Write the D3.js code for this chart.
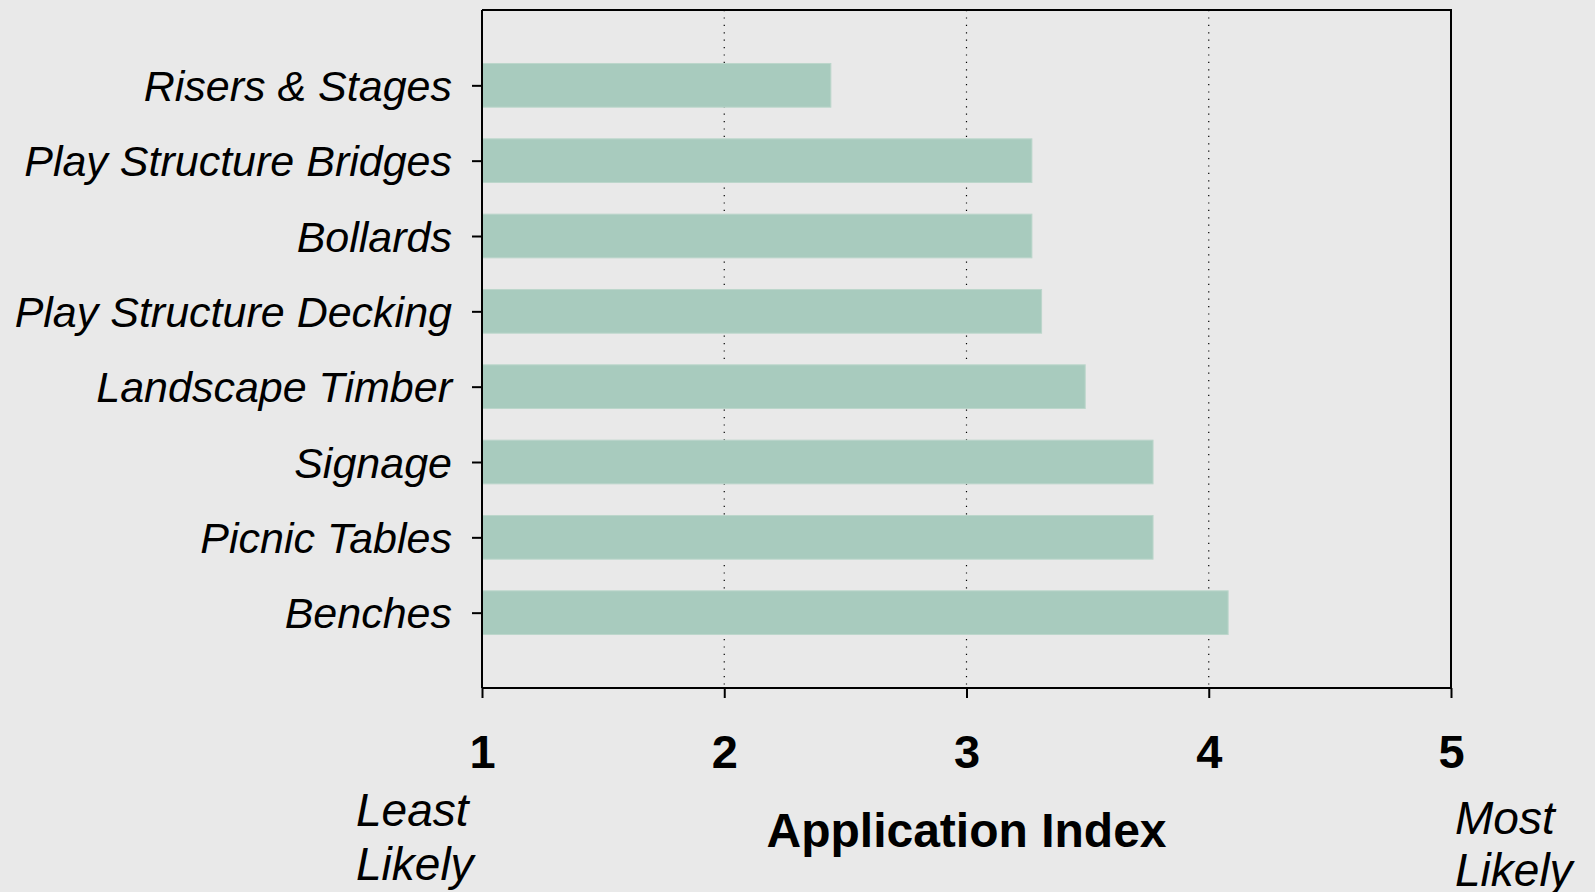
<!DOCTYPE html>
<html>
<head>
<meta charset="utf-8">
<script src="https://cdn.jsdelivr.net/npm/d3@7"></script>
<style>
  html, body { margin: 0; padding: 0; background: #e9e9e9; }
  svg { display: block; }
  text { font-family: "Liberation Sans", Arial, sans-serif; fill: #000; }
</style>
</head>
<body>
<svg id="chart" width="1595" height="892"></svg>
<script>
const categories = ["Risers & Stages", "Play Structure Bridges", "Bollards", "Play Structure Decking",
                    "Landscape Timber", "Signage", "Picnic Tables", "Benches"];
const values = [2.44, 3.27, 3.27, 3.31, 3.49, 3.77, 3.77, 4.08];
const xTicks = [1, 2, 3, 4, 5];
const gridTicks = [2, 3, 4];
const axisTitle = "Application Index";
const leftEndLabel = ["Least", "Likely"];
const rightEndLabel = ["Most", "Likely"];

const svg = d3.select("#chart");
const m = { left: 482, right: 1451, top: 10, bottom: 688 };

const x = d3.scaleLinear().domain([1, 5]).range([m.left, m.right]);
const y = d3.scalePoint().domain(categories).range([m.top, m.bottom]).padding(1);
const barH = y.step() * 0.58;

// dotted gridlines
svg.append("g").selectAll("line").data(gridTicks).join("line")
  .attr("x1", d => x(d)).attr("x2", d => x(d))
  .attr("y1", m.top).attr("y2", m.bottom)
  .attr("stroke", "#000").attr("stroke-width", 1.2)
  .attr("stroke-dasharray", "1.2,6.2");

// bars
svg.append("g").selectAll("rect").data(categories).join("rect")
  .attr("x", x(1))
  .attr("y", d => y(d) - barH / 2)
  .attr("width", (d, i) => x(values[i]) - x(1))
  .attr("height", barH)
  .attr("fill", "#a8cbbe")
  .attr("stroke", "#bcd6cb").attr("stroke-width", 1);

// frame: top and right
svg.append("path")
  .attr("d", `M${m.left},${m.top}H${m.right}V${m.bottom}`)
  .attr("fill", "none").attr("stroke", "#000").attr("stroke-width", 2);

// y axis
const yAxis = svg.append("g").attr("transform", `translate(${m.left},0)`)
  .call(d3.axisLeft(y).tickSize(10).tickPadding(20));
yAxis.select(".domain").attr("stroke", "#000").attr("stroke-width", 2)
  .attr("d", `M0,${m.top}V${m.bottom}`);
yAxis.selectAll(".tick line").attr("stroke", "#000").attr("stroke-width", 2);
yAxis.selectAll(".tick text")
  .style("font-family", '"Liberation Sans", Arial, sans-serif')
  .style("font-size", "43px").style("font-style", "italic")
  .attr("dy", "0.35em").attr("fill", "#000");

// x axis
const xAxis = svg.append("g").attr("transform", `translate(0,${m.bottom})`)
  .call(d3.axisBottom(x).tickValues(xTicks).tickFormat(d3.format("d")).tickSize(10).tickPadding(0));
xAxis.select(".domain").attr("stroke", "#000").attr("stroke-width", 2)
  .attr("d", `M${m.left},0H${m.right}`);
xAxis.selectAll(".tick line").attr("stroke", "#000").attr("stroke-width", 2);
xAxis.selectAll(".tick text")
  .style("font-family", '"Liberation Sans", Arial, sans-serif')
  .style("font-size", "47px").style("font-weight", "bold")
  .attr("y", 80).attr("dy", 0).attr("fill", "#000");

// axis title
svg.append("text")
  .attr("x", (m.left + m.right) / 2).attr("y", 847)
  .attr("text-anchor", "middle")
  .style("font-size", "48px").style("font-weight", "bold")
  .text(axisTitle);

// end labels
const lt = svg.append("text").attr("x", 356).attr("y", 826)
  .style("font-size", "46px").style("font-style", "italic");
lt.selectAll("tspan").data(leftEndLabel).join("tspan")
  .attr("x", 356).attr("dy", (d, i) => i === 0 ? 0 : 54).text(d => d);

const rt = svg.append("text").attr("x", 1455).attr("y", 834)
  .style("font-size", "46px").style("font-style", "italic");
rt.selectAll("tspan").data(rightEndLabel).join("tspan")
  .attr("x", 1455).attr("dy", (d, i) => i === 0 ? 0 : 52).text(d => d);
</script>
</body>
</html>
